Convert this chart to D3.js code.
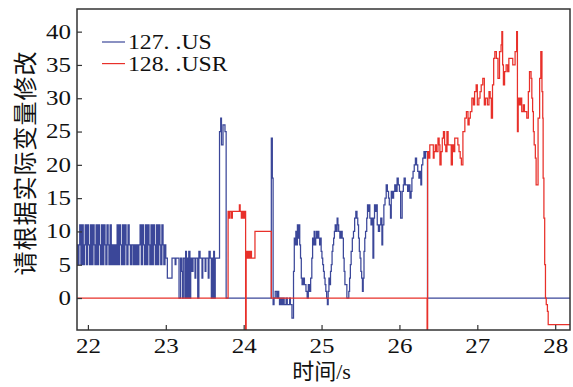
<!DOCTYPE html>
<html>
<head>
<meta charset="utf-8">
<script src="https://cdn.jsdelivr.net/npm/d3@7"></script>
<style>
  html, body { margin: 0; padding: 0; background: #fff; }
  svg text { font-family: "Liberation Serif", "Times New Roman", "Noto Sans CJK SC", serif; fill: #111; }
</style>
</head>
<body>
<figure id="chart" style="margin:0"></figure>
<script>
// series: [time s, value]
const us127 = [
  [21.86,8],[21.87,5],[21.885,8],[21.895,11],[21.91,5],[21.925,11],[21.94,5],[21.955,8],[21.965,11],[21.98,5],
  [21.995,11],[22.01,8],[22.02,5],[22.035,11],[22.05,5],[22.065,11],[22.08,8],[22.09,5],[22.105,11],[22.12,5],
  [22.135,11],[22.15,8],[22.16,5],[22.175,11],[22.19,5],[22.205,11],[22.22,8],[22.23,5],[22.245,11],[22.26,8],
  [22.27,5],[22.285,11],[22.30,5],[22.315,8],[22.33,5],[22.345,8],[22.36,5],[22.375,11],[22.39,5],[22.405,11],
  [22.42,8],[22.43,5],[22.445,11],[22.46,5],[22.475,11],[22.49,8],[22.50,5],[22.515,11],[22.53,8],[22.545,5],
  [22.56,8],[22.58,5],[22.595,8],[22.61,5],[22.625,8],[22.64,5],[22.655,8],[22.67,11],[22.685,5],[22.70,11],
  [22.715,8],[22.725,5],[22.74,11],[22.755,5],[22.77,11],[22.785,8],[22.795,5],[22.81,11],[22.825,5],[22.84,11],
  [22.855,8],[22.865,5],[22.88,11],[22.895,5],[22.91,11],[22.925,8],[22.935,5],[22.95,11],[22.965,8],[22.975,5],
  [22.99,8],[23.0,6],[23.02,3],[23.08,6],[23.12,5],[23.13,6],[23.17,0],[23.19,6],[23.205,4],[23.215,0],
  [23.225,6],[23.245,0],[23.255,7],[23.265,0],[23.275,6],[23.285,0],[23.295,7],[23.31,0],[23.32,6],[23.335,4],
  [23.35,6],[23.375,3],[23.385,6],[23.41,0],[23.425,7],[23.44,6],[23.465,3],[23.475,6],[23.505,4],[23.515,6],
  [23.545,3],[23.555,7],[23.57,6],[23.585,0],[23.595,6],[23.605,0],[23.615,7],[23.625,0],[23.635,6],[23.69,25],
  [23.705,27],[23.715,23],[23.735,26],[23.76,25],[23.775,0],[24.355,24],[24.368,18],[24.378,-1],[24.39,0],[24.405,1],
  [24.425,0],[24.435,1],[24.45,0],[24.46,-1],[24.475,0],[24.49,-1],[24.505,0],[24.52,-1],[24.545,0],[24.56,-1],
  [24.59,0],[24.60,-1],[24.62,-3],[24.64,4],[24.65,9],[24.66,8],[24.67,10],[24.68,8],[24.69,11],[24.70,9],
  [24.71,11],[24.72,8],[24.73,6],[24.74,3],[24.75,2],[24.765,3],[24.78,2],[24.80,1],[24.815,0],[24.83,2],
  [24.845,1],[24.86,3],[24.875,6],[24.885,9],[24.895,8],[24.905,10],[24.915,8],[24.925,9],[24.935,10],[24.945,9],
  [24.955,10],[24.965,9],[24.975,8],[24.985,9],[24.995,7],[25.005,6],[25.015,5],[25.025,4],[25.035,3],[25.045,2],
  [25.055,1],[25.065,0],[25.075,-1],[25.085,1],[25.095,3],[25.105,2],[25.115,4],[25.125,5],[25.135,7],[25.145,8],
  [25.155,9],[25.165,10],[25.175,11],[25.19,10],[25.20,12],[25.21,11],[25.22,10],[25.235,9],[25.25,10],[25.265,9],
  [25.28,6],[25.29,4],[25.30,2],[25.325,0],[25.35,1],[25.36,3],[25.37,5],[25.38,7],[25.395,9],[25.41,10],
  [25.425,12],[25.44,13],[25.455,12],[25.465,11],[25.475,9],[25.485,7],[25.495,6],[25.505,4],[25.515,3],[25.525,1],
  [25.535,3],[25.545,7],[25.555,9],[25.565,10],[25.58,12],[25.59,14],[25.60,13],[25.61,14],[25.62,12],[25.635,11],
  [25.65,12],[25.66,6],[25.67,12],[25.68,14],[25.695,13],[25.705,14],[25.715,11],[25.73,10],[25.745,11],[25.76,12],
  [25.775,8],[25.785,11],[25.80,14],[25.815,15],[25.83,17],[25.845,16],[25.86,15],[25.87,14],[25.885,12],[25.895,16],
  [25.91,15],[25.925,16],[25.94,17],[25.955,16],[25.97,18],[25.985,17],[26.0,16],[26.015,12],[26.035,16],[26.05,17],
  [26.06,18],[26.075,17],[26.09,17],[26.105,16],[26.12,17],[26.135,15],[26.15,16],[26.16,18],[26.175,19],[26.19,20],
  [26.205,21],[26.22,20],[26.235,19],[26.25,18],[26.265,19],[26.275,17],[26.285,20],[26.30,21],[26.315,22],[26.325,21],
  [26.335,22],[26.36,0],[28.19,0]
];

const usr128 = [
  [21.86,0],[23.80,13],[23.81,12],[23.825,13],[23.845,12],[23.855,13],[23.93,13],[23.945,14],[23.955,13],[23.97,12],
  [23.98,13],[23.995,12],[24.01,13],[24.025,-6],[24.032,7],[24.045,6],[24.055,7],[24.07,6],[24.085,7],[24.1,6],
  [24.145,10],[24.355,0],[26.355,-6],[26.362,22],[26.375,21],[26.39,23],[26.435,21],[26.445,22],[26.46,23],[26.475,22],
  [26.495,24],[26.51,23],[26.52,20],[26.535,22],[26.55,24],[26.565,25],[26.58,23],[26.595,22],[26.61,25],[26.625,23],
  [26.665,20],[26.68,23],[26.695,22],[26.71,24],[26.75,23],[26.765,22],[26.78,21],[26.795,20],[26.815,25],[26.84,27],
  [26.86,28],[26.88,26],[26.895,27],[26.91,28],[26.93,30],[26.95,29],[26.965,31],[26.985,32],[27.0,29],[27.02,30],
  [27.035,31],[27.05,32],[27.07,33],[27.09,29],[27.105,30],[27.13,29],[27.15,31],[27.165,30],[27.18,27],[27.195,32],
  [27.21,36],[27.225,37],[27.245,36],[27.265,33],[27.285,37],[27.305,38],[27.315,40],[27.325,35],[27.335,32],[27.35,34],
  [27.37,35],[27.39,34],[27.405,36],[27.455,35],[27.485,37],[27.505,40],[27.515,25],[27.525,30],[27.54,29],[27.555,30],
  [27.57,28],[27.59,29],[27.605,28],[27.635,27],[27.655,31],[27.67,34],[27.69,33],[27.70,30],[27.71,28],[27.72,25],
  [27.73,23],[27.745,21],[27.755,17],[27.78,27],[27.80,33],[27.815,37],[27.83,31],[27.84,27],[27.845,18],[27.855,12],
  [27.865,5],[27.875,0],[27.885,-1],[27.9,-2],[27.91,-4],[28.19,-4]
];

const xTicks = [22, 23, 24, 25, 26, 27, 28];
const yTicks = [0, 5, 10, 15, 20, 25, 30, 35, 40];
const seriesNames = ["127. .US", "128. .USR"];
const seriesColors = ["#3b4799", "#e8302a"];
const xTitle = "时间/s";
const yTitle = "请根据实际变量修改";

const W = 573, H = 387;
const margin = { top: 9, right: 3, bottom: 57, left: 77 };
const width = W - margin.left - margin.right;
const height = H - margin.top - margin.bottom;

const svg = d3.select("figure#chart")
  .append("svg")
  .attr("width", W)
  .attr("height", H)
  .append("g")
  .attr("transform", "translate(" + margin.left + "," + margin.top + ")");

const x = d3.scaleLinear().domain([21.86, 28.19]).range([0, width]);
const y = d3.scaleLinear().domain([-4.8, 43.4]).range([height, 0]);

svg.append("clipPath").attr("id", "plot-clip")
  .append("rect").attr("width", width).attr("height", height);

const line = d3.line()
  .x(d => x(d[0]))
  .y(d => y(d[1]))
  .curve(d3.curveStepAfter);

const plot = svg.append("g").attr("clip-path", "url(#plot-clip)");

[us127, usr128].forEach((s, i) => {
  plot.append("path")
    .datum(s)
    .attr("fill", "none")
    .attr("stroke", seriesColors[i])
    .attr("stroke-width", 1.25)
    .attr("d", line);
});

// axes, ticks point inward
const tickScale = 1.25;
const xAxis = svg.append("g")
  .attr("transform", "translate(0," + height + ")")
  .call(d3.axisBottom(x).tickValues(xTicks).tickFormat(d3.format("d"))
    .tickSizeInner(-5).tickSizeOuter(0).tickPadding(9));
xAxis.selectAll("text")
  .style("font-size", "20px")
  .attr("transform", "scale(" + tickScale + ",1)");

const yAxis = svg.append("g")
  .call(d3.axisLeft(y).tickValues(yTicks).tickFormat(d3.format("d"))
    .tickSizeInner(-5).tickSizeOuter(0));
yAxis.selectAll("text")
  .style("font-size", "20px")
  .attr("x", -6 / tickScale)
  .attr("transform", "scale(" + tickScale + ",1)");

[xAxis, yAxis].forEach(a => {
  a.select(".domain").remove();
  a.selectAll("line").attr("stroke", "#333").attr("stroke-width", 1.2);
});

// frame
svg.append("rect")
  .attr("width", width)
  .attr("height", height)
  .attr("fill", "none")
  .attr("stroke", "#333")
  .attr("stroke-width", 1.5);

// legend
const legend = svg.append("g").attr("transform", "translate(25,33)");
seriesNames.forEach((name, i) => {
  const row = legend.append("g").attr("transform", "translate(0," + (i * 21.6) + ")");
  row.append("line")
    .attr("x1", 0).attr("x2", 23)
    .attr("stroke", seriesColors[i]).attr("stroke-width", 1.2);
  row.append("g")
    .attr("transform", "translate(26,7) scale(1.08,1)")
    .append("text")
    .style("font-size", "22px")
    .text(name);
});

svg.append("text")
  .attr("x", width / 2 - 2)
  .attr("y", height + 49)
  .attr("text-anchor", "middle")
  .style("font-size", "22px")
  .text(xTitle);

svg.append("text")
  .attr("transform", "translate(" + (26 - margin.left) + "," + (163 - margin.top) + ") rotate(-90)")
  .attr("text-anchor", "middle")
  .attr("dominant-baseline", "central")
  .style("font-size", "24px")
  .style("letter-spacing", "1px")
  .text(yTitle);
</script>
</body>
</html>
